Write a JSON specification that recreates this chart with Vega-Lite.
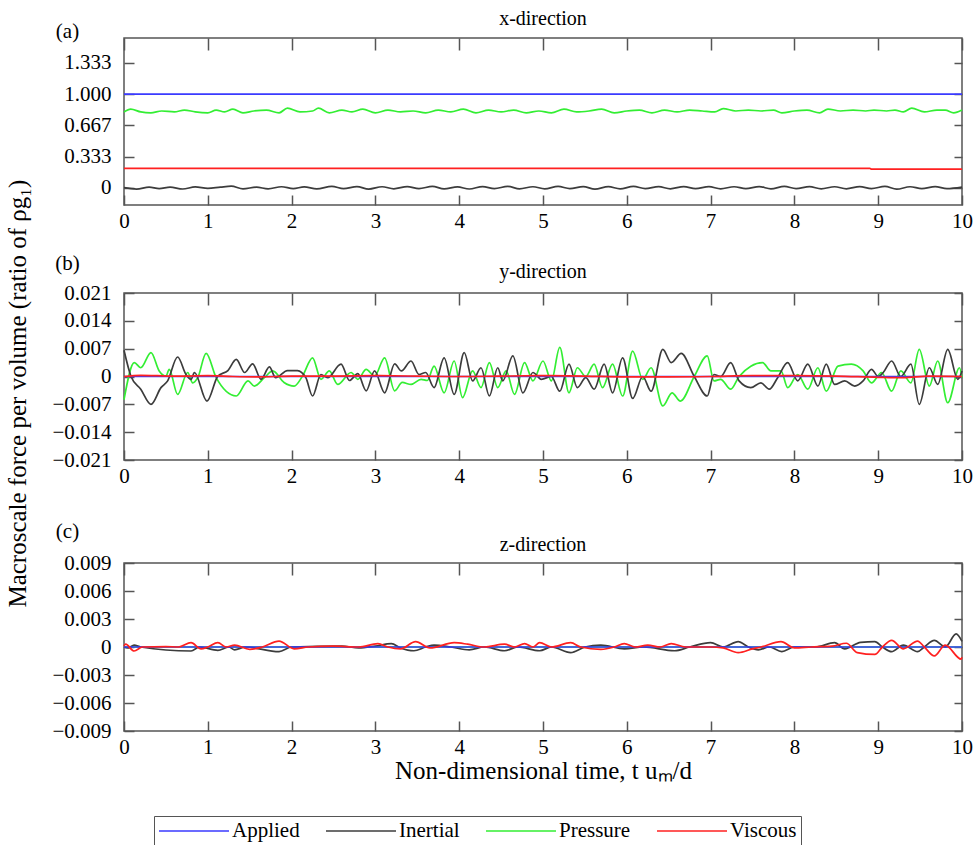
{
  "$schema": "https://vega.github.io/schema/vega-lite/v6.json",
  "padding": {"left": 6, "top": 7, "right": 0, "bottom": 0},
  "title": {"text": "Macroscale force per volume (ratio of ρg₁)", "orient": "left", "anchor": "middle", "dx": 33, "fontSize": 25, "offset": 20, "font": "Liberation Serif", "fontWeight": "normal", "color": "#000"},
  "datasets": {
    "a": [
      {"s": "Pressure", "t": 0, "v": 0.81}, {"s": "Pressure", "t": 0.08, "v": 0.84}, {"s": "Pressure", "t": 0.2, "v": 0.81}, {"s": "Pressure", "t": 0.32, "v": 0.8}, {"s": "Pressure", "t": 0.45, "v": 0.82}, {"s": "Pressure", "t": 0.6, "v": 0.81}, {"s": "Pressure", "t": 0.72, "v": 0.83}, {"s": "Pressure", "t": 0.85, "v": 0.81}, {"s": "Pressure", "t": 1.0, "v": 0.8}, {"s": "Pressure", "t": 1.1, "v": 0.83}, {"s": "Pressure", "t": 1.2, "v": 0.81}, {"s": "Pressure", "t": 1.3, "v": 0.84}, {"s": "Pressure", "t": 1.42, "v": 0.8}, {"s": "Pressure", "t": 1.55, "v": 0.82}, {"s": "Pressure", "t": 1.7, "v": 0.83}, {"s": "Pressure", "t": 1.85, "v": 0.8}, {"s": "Pressure", "t": 1.95, "v": 0.85}, {"s": "Pressure", "t": 2.1, "v": 0.81}, {"s": "Pressure", "t": 2.25, "v": 0.82}, {"s": "Pressure", "t": 2.32, "v": 0.85}, {"s": "Pressure", "t": 2.45, "v": 0.8}, {"s": "Pressure", "t": 2.6, "v": 0.83}, {"s": "Pressure", "t": 2.72, "v": 0.81}, {"s": "Pressure", "t": 2.85, "v": 0.84}, {"s": "Pressure", "t": 3.0, "v": 0.8}, {"s": "Pressure", "t": 3.15, "v": 0.83}, {"s": "Pressure", "t": 3.3, "v": 0.81}, {"s": "Pressure", "t": 3.45, "v": 0.82}, {"s": "Pressure", "t": 3.6, "v": 0.8}, {"s": "Pressure", "t": 3.75, "v": 0.83}, {"s": "Pressure", "t": 3.9, "v": 0.81}, {"s": "Pressure", "t": 4.05, "v": 0.84}, {"s": "Pressure", "t": 4.2, "v": 0.8}, {"s": "Pressure", "t": 4.35, "v": 0.83}, {"s": "Pressure", "t": 4.5, "v": 0.81}, {"s": "Pressure", "t": 4.65, "v": 0.83}, {"s": "Pressure", "t": 4.8, "v": 0.8}, {"s": "Pressure", "t": 4.95, "v": 0.82}, {"s": "Pressure", "t": 5.1, "v": 0.8}, {"s": "Pressure", "t": 5.25, "v": 0.84}, {"s": "Pressure", "t": 5.4, "v": 0.81}, {"s": "Pressure", "t": 5.55, "v": 0.82}, {"s": "Pressure", "t": 5.7, "v": 0.84}, {"s": "Pressure", "t": 5.85, "v": 0.8}, {"s": "Pressure", "t": 6.0, "v": 0.82}, {"s": "Pressure", "t": 6.15, "v": 0.83}, {"s": "Pressure", "t": 6.3, "v": 0.8}, {"s": "Pressure", "t": 6.45, "v": 0.83}, {"s": "Pressure", "t": 6.6, "v": 0.81}, {"s": "Pressure", "t": 6.75, "v": 0.83}, {"s": "Pressure", "t": 6.9, "v": 0.82}, {"s": "Pressure", "t": 7.05, "v": 0.81}, {"s": "Pressure", "t": 7.15, "v": 0.845}, {"s": "Pressure", "t": 7.3, "v": 0.82}, {"s": "Pressure", "t": 7.45, "v": 0.83}, {"s": "Pressure", "t": 7.6, "v": 0.82}, {"s": "Pressure", "t": 7.75, "v": 0.83}, {"s": "Pressure", "t": 7.85, "v": 0.8}, {"s": "Pressure", "t": 8.0, "v": 0.82}, {"s": "Pressure", "t": 8.15, "v": 0.83}, {"s": "Pressure", "t": 8.3, "v": 0.8}, {"s": "Pressure", "t": 8.4, "v": 0.84}, {"s": "Pressure", "t": 8.55, "v": 0.82}, {"s": "Pressure", "t": 8.7, "v": 0.83}, {"s": "Pressure", "t": 8.85, "v": 0.82}, {"s": "Pressure", "t": 8.95, "v": 0.83}, {"s": "Pressure", "t": 9.1, "v": 0.82}, {"s": "Pressure", "t": 9.2, "v": 0.83}, {"s": "Pressure", "t": 9.3, "v": 0.81}, {"s": "Pressure", "t": 9.4, "v": 0.85}, {"s": "Pressure", "t": 9.55, "v": 0.81}, {"s": "Pressure", "t": 9.7, "v": 0.83}, {"s": "Pressure", "t": 9.8, "v": 0.83}, {"s": "Pressure", "t": 9.9, "v": 0.8}, {"s": "Pressure", "t": 10, "v": 0.83},
      {"s": "Inertial", "t": 0, "v": 0.0}, {"s": "Inertial", "t": 0.15, "v": -0.015}, {"s": "Inertial", "t": 0.3, "v": 0.005}, {"s": "Inertial", "t": 0.42, "v": -0.01}, {"s": "Inertial", "t": 0.55, "v": 0.006}, {"s": "Inertial", "t": 0.7, "v": -0.014}, {"s": "Inertial", "t": 0.85, "v": 0.008}, {"s": "Inertial", "t": 1.0, "v": -0.008}, {"s": "Inertial", "t": 1.15, "v": 0.006}, {"s": "Inertial", "t": 1.28, "v": 0.016}, {"s": "Inertial", "t": 1.42, "v": -0.012}, {"s": "Inertial", "t": 1.58, "v": 0.006}, {"s": "Inertial", "t": 1.72, "v": -0.012}, {"s": "Inertial", "t": 1.88, "v": 0.01}, {"s": "Inertial", "t": 2.02, "v": -0.01}, {"s": "Inertial", "t": 2.15, "v": 0.008}, {"s": "Inertial", "t": 2.3, "v": -0.012}, {"s": "Inertial", "t": 2.48, "v": 0.015}, {"s": "Inertial", "t": 2.62, "v": -0.01}, {"s": "Inertial", "t": 2.78, "v": 0.012}, {"s": "Inertial", "t": 2.92, "v": -0.015}, {"s": "Inertial", "t": 3.08, "v": 0.01}, {"s": "Inertial", "t": 3.22, "v": -0.012}, {"s": "Inertial", "t": 3.38, "v": 0.012}, {"s": "Inertial", "t": 3.52, "v": -0.01}, {"s": "Inertial", "t": 3.68, "v": 0.014}, {"s": "Inertial", "t": 3.82, "v": -0.012}, {"s": "Inertial", "t": 3.98, "v": 0.008}, {"s": "Inertial", "t": 4.12, "v": -0.014}, {"s": "Inertial", "t": 4.28, "v": 0.012}, {"s": "Inertial", "t": 4.42, "v": -0.01}, {"s": "Inertial", "t": 4.58, "v": 0.014}, {"s": "Inertial", "t": 4.72, "v": -0.012}, {"s": "Inertial", "t": 4.88, "v": 0.01}, {"s": "Inertial", "t": 5.02, "v": -0.012}, {"s": "Inertial", "t": 5.18, "v": 0.014}, {"s": "Inertial", "t": 5.32, "v": -0.01}, {"s": "Inertial", "t": 5.48, "v": 0.012}, {"s": "Inertial", "t": 5.62, "v": -0.015}, {"s": "Inertial", "t": 5.78, "v": 0.012}, {"s": "Inertial", "t": 5.92, "v": -0.012}, {"s": "Inertial", "t": 6.08, "v": 0.014}, {"s": "Inertial", "t": 6.22, "v": -0.01}, {"s": "Inertial", "t": 6.38, "v": 0.012}, {"s": "Inertial", "t": 6.52, "v": -0.012}, {"s": "Inertial", "t": 6.68, "v": 0.012}, {"s": "Inertial", "t": 6.82, "v": -0.01}, {"s": "Inertial", "t": 6.98, "v": 0.012}, {"s": "Inertial", "t": 7.12, "v": -0.012}, {"s": "Inertial", "t": 7.28, "v": 0.01}, {"s": "Inertial", "t": 7.42, "v": -0.01}, {"s": "Inertial", "t": 7.58, "v": 0.012}, {"s": "Inertial", "t": 7.72, "v": -0.012}, {"s": "Inertial", "t": 7.88, "v": 0.014}, {"s": "Inertial", "t": 8.02, "v": -0.01}, {"s": "Inertial", "t": 8.18, "v": 0.012}, {"s": "Inertial", "t": 8.32, "v": -0.012}, {"s": "Inertial", "t": 8.48, "v": 0.01}, {"s": "Inertial", "t": 8.62, "v": -0.012}, {"s": "Inertial", "t": 8.78, "v": 0.012}, {"s": "Inertial", "t": 8.92, "v": -0.01}, {"s": "Inertial", "t": 9.08, "v": 0.014}, {"s": "Inertial", "t": 9.22, "v": -0.016}, {"s": "Inertial", "t": 9.38, "v": 0.01}, {"s": "Inertial", "t": 9.52, "v": -0.01}, {"s": "Inertial", "t": 9.68, "v": 0.012}, {"s": "Inertial", "t": 9.82, "v": -0.01}, {"s": "Inertial", "t": 10, "v": 0.006},
      {"s": "Applied", "t": 0, "v": 1.0}, {"s": "Applied", "t": 10, "v": 1.0},
      {"s": "Viscous", "t": 0, "v": 0.207}, {"s": "Viscous", "t": 8.9, "v": 0.207}, {"s": "Viscous", "t": 8.92, "v": 0.199}, {"s": "Viscous", "t": 10, "v": 0.199}
    ],
    "b": [
      {"s": "Pressure", "t": 0, "v": -0.0058}, {"s": "Pressure", "t": 0.123, "v": 0.0035}, {"s": "Pressure", "t": 0.2, "v": 0.0022}, {"s": "Pressure", "t": 0.322, "v": 0.006}, {"s": "Pressure", "t": 0.42, "v": 0.0014}, {"s": "Pressure", "t": 0.5, "v": 0.0001}, {"s": "Pressure", "t": 0.54, "v": 0.0018}, {"s": "Pressure", "t": 0.64, "v": -0.0045}, {"s": "Pressure", "t": 0.76, "v": 0.001}, {"s": "Pressure", "t": 0.82, "v": -0.0016}, {"s": "Pressure", "t": 0.88, "v": -0.0003}, {"s": "Pressure", "t": 0.98, "v": 0.0058}, {"s": "Pressure", "t": 1.1, "v": -0.0003}, {"s": "Pressure", "t": 1.34, "v": -0.0049}, {"s": "Pressure", "t": 1.48, "v": -0.0011}, {"s": "Pressure", "t": 1.555, "v": -0.0024}, {"s": "Pressure", "t": 1.675, "v": -0.0003}, {"s": "Pressure", "t": 1.775, "v": 0.0014}, {"s": "Pressure", "t": 1.91, "v": -0.0015}, {"s": "Pressure", "t": 2.03, "v": -0.0024}, {"s": "Pressure", "t": 2.13, "v": 0.0001}, {"s": "Pressure", "t": 2.25, "v": 0.0047}, {"s": "Pressure", "t": 2.35, "v": -0.0007}, {"s": "Pressure", "t": 2.45, "v": 0.0014}, {"s": "Pressure", "t": 2.55, "v": -0.002}, {"s": "Pressure", "t": 2.71, "v": 0.001}, {"s": "Pressure", "t": 2.79, "v": -0.0007}, {"s": "Pressure", "t": 2.89, "v": 0.0018}, {"s": "Pressure", "t": 2.99, "v": 0.0001}, {"s": "Pressure", "t": 3.11, "v": 0.0047}, {"s": "Pressure", "t": 3.23, "v": -0.0036}, {"s": "Pressure", "t": 3.32, "v": -0.0015}, {"s": "Pressure", "t": 3.425, "v": -0.002}, {"s": "Pressure", "t": 3.545, "v": -0.0007}, {"s": "Pressure", "t": 3.62, "v": -0.001}, {"s": "Pressure", "t": 3.7, "v": 0.0026}, {"s": "Pressure", "t": 3.82, "v": -0.0041}, {"s": "Pressure", "t": 3.94, "v": 0.0039}, {"s": "Pressure", "t": 4.04, "v": -0.0053}, {"s": "Pressure", "t": 4.16, "v": 0.0014}, {"s": "Pressure", "t": 4.26, "v": -0.0028}, {"s": "Pressure", "t": 4.36, "v": 0.0035}, {"s": "Pressure", "t": 4.46, "v": -0.0028}, {"s": "Pressure", "t": 4.56, "v": 0.0014}, {"s": "Pressure", "t": 4.66, "v": -0.0045}, {"s": "Pressure", "t": 4.78, "v": 0.0035}, {"s": "Pressure", "t": 4.88, "v": -0.0011}, {"s": "Pressure", "t": 5.0, "v": 0.0039}, {"s": "Pressure", "t": 5.1, "v": -0.0011}, {"s": "Pressure", "t": 5.2, "v": 0.0073}, {"s": "Pressure", "t": 5.31, "v": -0.0041}, {"s": "Pressure", "t": 5.41, "v": 0.0022}, {"s": "Pressure", "t": 5.51, "v": 0.0}, {"s": "Pressure", "t": 5.61, "v": 0.0031}, {"s": "Pressure", "t": 5.71, "v": -0.0028}, {"s": "Pressure", "t": 5.83, "v": 0.0031}, {"s": "Pressure", "t": 5.95, "v": -0.0049}, {"s": "Pressure", "t": 6.07, "v": 0.0064}, {"s": "Pressure", "t": 6.19, "v": -0.0007}, {"s": "Pressure", "t": 6.29, "v": 0.0022}, {"s": "Pressure", "t": 6.43, "v": -0.0074}, {"s": "Pressure", "t": 6.54, "v": -0.0041}, {"s": "Pressure", "t": 6.64, "v": -0.0062}, {"s": "Pressure", "t": 6.805, "v": 0.0}, {"s": "Pressure", "t": 6.96, "v": 0.0052}, {"s": "Pressure", "t": 7.04, "v": -0.0011}, {"s": "Pressure", "t": 7.12, "v": -0.0007}, {"s": "Pressure", "t": 7.24, "v": -0.0032}, {"s": "Pressure", "t": 7.34, "v": 0.0}, {"s": "Pressure", "t": 7.48, "v": 0.0026}, {"s": "Pressure", "t": 7.62, "v": 0.0035}, {"s": "Pressure", "t": 7.72, "v": 0.0014}, {"s": "Pressure", "t": 7.84, "v": 0.0014}, {"s": "Pressure", "t": 7.92, "v": -0.0028}, {"s": "Pressure", "t": 8.04, "v": 0.0005}, {"s": "Pressure", "t": 8.16, "v": -0.0032}, {"s": "Pressure", "t": 8.28, "v": 0.0022}, {"s": "Pressure", "t": 8.38, "v": -0.0037}, {"s": "Pressure", "t": 8.52, "v": 0.0026}, {"s": "Pressure", "t": 8.68, "v": 0.0031}, {"s": "Pressure", "t": 8.82, "v": 0.0014}, {"s": "Pressure", "t": 8.92, "v": -0.0016}, {"s": "Pressure", "t": 9.04, "v": 0.001}, {"s": "Pressure", "t": 9.16, "v": -0.0037}, {"s": "Pressure", "t": 9.27, "v": 0.0014}, {"s": "Pressure", "t": 9.39, "v": -0.0016}, {"s": "Pressure", "t": 9.49, "v": 0.0068}, {"s": "Pressure", "t": 9.61, "v": -0.0024}, {"s": "Pressure", "t": 9.71, "v": 0.0039}, {"s": "Pressure", "t": 9.83, "v": -0.0066}, {"s": "Pressure", "t": 9.97, "v": 0.0022}, {"s": "Pressure", "t": 10, "v": -0.0003},
      {"s": "Inertial", "t": 0, "v": 0.0066}, {"s": "Inertial", "t": 0.084, "v": 0.0}, {"s": "Inertial", "t": 0.2, "v": -0.0032}, {"s": "Inertial", "t": 0.322, "v": -0.007}, {"s": "Inertial", "t": 0.441, "v": -0.0028}, {"s": "Inertial", "t": 0.521, "v": -0.0011}, {"s": "Inertial", "t": 0.64, "v": 0.0049}, {"s": "Inertial", "t": 0.74, "v": 0.0005}, {"s": "Inertial", "t": 0.8, "v": -0.0007}, {"s": "Inertial", "t": 0.84, "v": 0.001}, {"s": "Inertial", "t": 0.99, "v": -0.0062}, {"s": "Inertial", "t": 1.12, "v": 0.0001}, {"s": "Inertial", "t": 1.24, "v": 0.0015}, {"s": "Inertial", "t": 1.34, "v": 0.0043}, {"s": "Inertial", "t": 1.44, "v": 0.001}, {"s": "Inertial", "t": 1.535, "v": 0.0032}, {"s": "Inertial", "t": 1.635, "v": -0.0007}, {"s": "Inertial", "t": 1.735, "v": 0.0024}, {"s": "Inertial", "t": 1.81, "v": -0.0003}, {"s": "Inertial", "t": 1.95, "v": 0.0015}, {"s": "Inertial", "t": 2.07, "v": 0.0015}, {"s": "Inertial", "t": 2.17, "v": -0.0003}, {"s": "Inertial", "t": 2.25, "v": -0.0049}, {"s": "Inertial", "t": 2.35, "v": 0.0005}, {"s": "Inertial", "t": 2.43, "v": -0.0003}, {"s": "Inertial", "t": 2.59, "v": 0.0031}, {"s": "Inertial", "t": 2.69, "v": -0.001}, {"s": "Inertial", "t": 2.79, "v": 0.0007}, {"s": "Inertial", "t": 2.89, "v": -0.0036}, {"s": "Inertial", "t": 2.99, "v": 0.0014}, {"s": "Inertial", "t": 3.11, "v": -0.0041}, {"s": "Inertial", "t": 3.23, "v": 0.0032}, {"s": "Inertial", "t": 3.31, "v": 0.0014}, {"s": "Inertial", "t": 3.425, "v": 0.0039}, {"s": "Inertial", "t": 3.52, "v": 0.0005}, {"s": "Inertial", "t": 3.6, "v": 0.001}, {"s": "Inertial", "t": 3.7, "v": -0.0028}, {"s": "Inertial", "t": 3.82, "v": 0.0047}, {"s": "Inertial", "t": 3.94, "v": -0.0045}, {"s": "Inertial", "t": 4.06, "v": 0.006}, {"s": "Inertial", "t": 4.16, "v": -0.0011}, {"s": "Inertial", "t": 4.26, "v": 0.0022}, {"s": "Inertial", "t": 4.36, "v": -0.0049}, {"s": "Inertial", "t": 4.46, "v": 0.0022}, {"s": "Inertial", "t": 4.52, "v": -0.0011}, {"s": "Inertial", "t": 4.64, "v": 0.0052}, {"s": "Inertial", "t": 4.76, "v": -0.0041}, {"s": "Inertial", "t": 4.88, "v": 0.001}, {"s": "Inertial", "t": 4.98, "v": -0.0007}, {"s": "Inertial", "t": 5.1, "v": 0.0}, {"s": "Inertial", "t": 5.2, "v": -0.0037}, {"s": "Inertial", "t": 5.31, "v": 0.0031}, {"s": "Inertial", "t": 5.41, "v": -0.0028}, {"s": "Inertial", "t": 5.51, "v": -0.0003}, {"s": "Inertial", "t": 5.61, "v": -0.0032}, {"s": "Inertial", "t": 5.73, "v": 0.0031}, {"s": "Inertial", "t": 5.83, "v": -0.0041}, {"s": "Inertial", "t": 5.95, "v": 0.0047}, {"s": "Inertial", "t": 6.07, "v": -0.0055}, {"s": "Inertial", "t": 6.19, "v": 0.0}, {"s": "Inertial", "t": 6.29, "v": -0.0037}, {"s": "Inertial", "t": 6.43, "v": 0.0068}, {"s": "Inertial", "t": 6.53, "v": 0.0035}, {"s": "Inertial", "t": 6.65, "v": 0.0058}, {"s": "Inertial", "t": 6.805, "v": 0.0}, {"s": "Inertial", "t": 6.96, "v": -0.0049}, {"s": "Inertial", "t": 7.04, "v": 0.0005}, {"s": "Inertial", "t": 7.12, "v": 0.0}, {"s": "Inertial", "t": 7.24, "v": 0.0035}, {"s": "Inertial", "t": 7.34, "v": -0.0011}, {"s": "Inertial", "t": 7.48, "v": -0.0028}, {"s": "Inertial", "t": 7.6, "v": -0.0016}, {"s": "Inertial", "t": 7.7, "v": -0.0032}, {"s": "Inertial", "t": 7.8, "v": -0.0003}, {"s": "Inertial", "t": 7.92, "v": 0.0035}, {"s": "Inertial", "t": 8.04, "v": -0.0011}, {"s": "Inertial", "t": 8.16, "v": 0.0031}, {"s": "Inertial", "t": 8.28, "v": -0.0024}, {"s": "Inertial", "t": 8.38, "v": 0.0031}, {"s": "Inertial", "t": 8.48, "v": -0.002}, {"s": "Inertial", "t": 8.6, "v": -0.0011}, {"s": "Inertial", "t": 8.72, "v": -0.0024}, {"s": "Inertial", "t": 8.82, "v": -0.0011}, {"s": "Inertial", "t": 8.92, "v": 0.0018}, {"s": "Inertial", "t": 9.0, "v": 0.0}, {"s": "Inertial", "t": 9.06, "v": 0.001}, {"s": "Inertial", "t": 9.16, "v": 0.0039}, {"s": "Inertial", "t": 9.27, "v": 0.0}, {"s": "Inertial", "t": 9.39, "v": 0.0031}, {"s": "Inertial", "t": 9.49, "v": -0.007}, {"s": "Inertial", "t": 9.61, "v": 0.0022}, {"s": "Inertial", "t": 9.71, "v": -0.002}, {"s": "Inertial", "t": 9.83, "v": 0.0068}, {"s": "Inertial", "t": 9.95, "v": -0.0007}, {"s": "Inertial", "t": 10, "v": 0.0014},
      {"s": "Applied", "t": 0, "v": 0}, {"s": "Applied", "t": 10, "v": 0},
      {"s": "Viscous", "t": 0, "v": 0}, {"s": "Viscous", "t": 0.2, "v": 0.0003}, {"s": "Viscous", "t": 0.4, "v": 0.0002}, {"s": "Viscous", "t": 0.7, "v": 0.0001}, {"s": "Viscous", "t": 1.0, "v": 0.0002}, {"s": "Viscous", "t": 1.3, "v": 0}, {"s": "Viscous", "t": 1.6, "v": -0.0001}, {"s": "Viscous", "t": 2.0, "v": 0.0001}, {"s": "Viscous", "t": 2.5, "v": 0.0001}, {"s": "Viscous", "t": 3.0, "v": 0.0002}, {"s": "Viscous", "t": 3.5, "v": 0.0001}, {"s": "Viscous", "t": 4.0, "v": 0}, {"s": "Viscous", "t": 4.5, "v": 0.0001}, {"s": "Viscous", "t": 5.0, "v": 0.0002}, {"s": "Viscous", "t": 5.5, "v": 0.0001}, {"s": "Viscous", "t": 6.0, "v": -0.0001}, {"s": "Viscous", "t": 6.5, "v": -0.0001}, {"s": "Viscous", "t": 7.0, "v": 0}, {"s": "Viscous", "t": 7.5, "v": 0.0002}, {"s": "Viscous", "t": 8.0, "v": 0.0002}, {"s": "Viscous", "t": 8.5, "v": 0.0001}, {"s": "Viscous", "t": 9.0, "v": -0.0002}, {"s": "Viscous", "t": 9.3, "v": -0.0003}, {"s": "Viscous", "t": 9.6, "v": 0.0001}, {"s": "Viscous", "t": 10, "v": 0}
    ],
    "c": [
      {"s": "Pressure", "t": 0, "v": 0}, {"s": "Pressure", "t": 10, "v": 0},
      {"s": "Inertial", "t": 0, "v": 0}, {"s": "Inertial", "t": 0.05, "v": -0.0001}, {"s": "Inertial", "t": 0.12, "v": 0.0002}, {"s": "Inertial", "t": 0.2, "v": 0}, {"s": "Inertial", "t": 0.8, "v": -0.00043}, {"s": "Inertial", "t": 0.9, "v": 0}, {"s": "Inertial", "t": 1.12, "v": -0.00036}, {"s": "Inertial", "t": 1.25, "v": 0}, {"s": "Inertial", "t": 1.32, "v": -0.0003}, {"s": "Inertial", "t": 1.45, "v": 0}, {"s": "Inertial", "t": 1.85, "v": -0.0005}, {"s": "Inertial", "t": 2.0, "v": 0}, {"s": "Inertial", "t": 2.6, "v": 0.0001}, {"s": "Inertial", "t": 2.8, "v": -0.0001}, {"s": "Inertial", "t": 3.0, "v": 0.0001}, {"s": "Inertial", "t": 3.19, "v": 0.00036}, {"s": "Inertial", "t": 3.3, "v": -0.0001}, {"s": "Inertial", "t": 3.46, "v": -0.0004}, {"s": "Inertial", "t": 3.6, "v": 0}, {"s": "Inertial", "t": 3.7, "v": 0.0002}, {"s": "Inertial", "t": 3.9, "v": 0}, {"s": "Inertial", "t": 4.12, "v": -0.0003}, {"s": "Inertial", "t": 4.3, "v": 0}, {"s": "Inertial", "t": 4.54, "v": -0.0004}, {"s": "Inertial", "t": 4.7, "v": 0}, {"s": "Inertial", "t": 4.96, "v": -0.0004}, {"s": "Inertial", "t": 5.1, "v": 0}, {"s": "Inertial", "t": 5.33, "v": -0.0006}, {"s": "Inertial", "t": 5.5, "v": 0}, {"s": "Inertial", "t": 5.69, "v": 0.0002}, {"s": "Inertial", "t": 5.97, "v": -0.0002}, {"s": "Inertial", "t": 6.2, "v": 0}, {"s": "Inertial", "t": 6.57, "v": -0.0004}, {"s": "Inertial", "t": 6.75, "v": 0}, {"s": "Inertial", "t": 7.0, "v": 0.00046}, {"s": "Inertial", "t": 7.15, "v": 0}, {"s": "Inertial", "t": 7.33, "v": 0.00057}, {"s": "Inertial", "t": 7.45, "v": 0}, {"s": "Inertial", "t": 7.57, "v": -0.0003}, {"s": "Inertial", "t": 7.7, "v": 0}, {"s": "Inertial", "t": 7.85, "v": -0.0005}, {"s": "Inertial", "t": 8.0, "v": 0}, {"s": "Inertial", "t": 8.25, "v": 0}, {"s": "Inertial", "t": 8.48, "v": 0.00046}, {"s": "Inertial", "t": 8.6, "v": -0.0002}, {"s": "Inertial", "t": 8.79, "v": 0.0005}, {"s": "Inertial", "t": 8.96, "v": 0.00057}, {"s": "Inertial", "t": 9.05, "v": 0}, {"s": "Inertial", "t": 9.16, "v": -0.0005}, {"s": "Inertial", "t": 9.3, "v": 0.0002}, {"s": "Inertial", "t": 9.47, "v": -0.0005}, {"s": "Inertial", "t": 9.55, "v": 0}, {"s": "Inertial", "t": 9.67, "v": 0.0007}, {"s": "Inertial", "t": 9.8, "v": 0}, {"s": "Inertial", "t": 9.93, "v": 0.0014}, {"s": "Inertial", "t": 10, "v": 0.0006},
      {"s": "Applied", "t": 0, "v": 0}, {"s": "Applied", "t": 10, "v": 0},
      {"s": "Viscous", "t": 0, "v": 0.0001}, {"s": "Viscous", "t": 0.02, "v": 0.0003}, {"s": "Viscous", "t": 0.12, "v": -0.00043}, {"s": "Viscous", "t": 0.22, "v": 0}, {"s": "Viscous", "t": 0.5, "v": 0.00005}, {"s": "Viscous", "t": 0.65, "v": 0}, {"s": "Viscous", "t": 0.8, "v": 0.00046}, {"s": "Viscous", "t": 0.92, "v": -0.0002}, {"s": "Viscous", "t": 1.0, "v": 0}, {"s": "Viscous", "t": 1.12, "v": 0.00046}, {"s": "Viscous", "t": 1.22, "v": 0}, {"s": "Viscous", "t": 1.32, "v": 0.0002}, {"s": "Viscous", "t": 1.5, "v": -0.00025}, {"s": "Viscous", "t": 1.65, "v": 0}, {"s": "Viscous", "t": 1.85, "v": 0.00064}, {"s": "Viscous", "t": 2.03, "v": -0.0002}, {"s": "Viscous", "t": 2.2, "v": 0}, {"s": "Viscous", "t": 2.5, "v": 0.0001}, {"s": "Viscous", "t": 2.8, "v": 0}, {"s": "Viscous", "t": 3.03, "v": 0.00036}, {"s": "Viscous", "t": 3.15, "v": 0}, {"s": "Viscous", "t": 3.3, "v": -0.0002}, {"s": "Viscous", "t": 3.48, "v": 0.00057}, {"s": "Viscous", "t": 3.65, "v": -0.0001}, {"s": "Viscous", "t": 3.94, "v": 0.00046}, {"s": "Viscous", "t": 4.1, "v": 0.0003}, {"s": "Viscous", "t": 4.3, "v": 0}, {"s": "Viscous", "t": 4.54, "v": 0.0003}, {"s": "Viscous", "t": 4.66, "v": 0}, {"s": "Viscous", "t": 4.78, "v": 0.00036}, {"s": "Viscous", "t": 4.88, "v": 0}, {"s": "Viscous", "t": 4.96, "v": 0.00046}, {"s": "Viscous", "t": 5.1, "v": 0}, {"s": "Viscous", "t": 5.33, "v": 0.00046}, {"s": "Viscous", "t": 5.45, "v": 0}, {"s": "Viscous", "t": 5.69, "v": -0.00025}, {"s": "Viscous", "t": 5.85, "v": 0}, {"s": "Viscous", "t": 5.97, "v": 0.00036}, {"s": "Viscous", "t": 6.1, "v": 0}, {"s": "Viscous", "t": 6.25, "v": 0.0002}, {"s": "Viscous", "t": 6.4, "v": 0}, {"s": "Viscous", "t": 6.53, "v": 0.00036}, {"s": "Viscous", "t": 6.7, "v": 0}, {"s": "Viscous", "t": 7.0, "v": 0}, {"s": "Viscous", "t": 7.15, "v": -0.0001}, {"s": "Viscous", "t": 7.33, "v": -0.0006}, {"s": "Viscous", "t": 7.5, "v": -0.0002}, {"s": "Viscous", "t": 7.6, "v": 0}, {"s": "Viscous", "t": 7.84, "v": 0.00057}, {"s": "Viscous", "t": 8.0, "v": -0.0001}, {"s": "Viscous", "t": 8.2, "v": 0}, {"s": "Viscous", "t": 8.45, "v": 0.0001}, {"s": "Viscous", "t": 8.62, "v": 0.0004}, {"s": "Viscous", "t": 8.75, "v": -0.0006}, {"s": "Viscous", "t": 8.96, "v": -0.0008}, {"s": "Viscous", "t": 9.05, "v": 0}, {"s": "Viscous", "t": 9.16, "v": 0.0007}, {"s": "Viscous", "t": 9.3, "v": -0.0002}, {"s": "Viscous", "t": 9.47, "v": 0.00064}, {"s": "Viscous", "t": 9.55, "v": 0}, {"s": "Viscous", "t": 9.67, "v": -0.00096}, {"s": "Viscous", "t": 9.8, "v": 0.0002}, {"s": "Viscous", "t": 9.99, "v": -0.0013}, {"s": "Viscous", "t": 10, "v": -0.0011}
    ]
  },
  "spacing": 88,
  "bounds": "flush",
  "vconcat": [
    {
      "width": 838, "height": 167,
      "data": {"name": "a"},
      "title": {"text": "x-direction", "anchor": "middle", "offset": -8.5},
      "layer": [
        {
          "mark": {"type": "line", "interpolate": "monotone", "strokeWidth": 1.7},
          "encoding": {
            "x": {"field": "t", "type": "quantitative", "scale": {"domain": [0, 10], "nice": false, "zero": false}, "axis": {"orient": "bottom", "values": [0,1,2,3,4,5,6,7,8,9,10], "tickSize": -10, "labelPadding": 15, "title": null}},
            "y": {"field": "v", "type": "quantitative", "scale": {"domain": [-0.185, 1.6], "nice": false, "zero": false}, "axis": {"orient": "left", "values": [0, 0.333, 0.667, 1, 1.333], "labelExpr": "datum.value == 0 ? '0' : format(datum.value, '.3f')", "tickSize": -10, "labelPadding": 23, "title": "(a)", "titleAngle": 0, "titleX": -57, "titleY": -7, "titleAlign": "center", "titleBaseline": "middle", "titleFontSize": 21}},
            "color": {"field": "s", "type": "nominal", "scale": {"domain": ["Applied", "Inertial", "Pressure", "Viscous"], "range": ["#3a3aff", "#3c3c3c", "#33ee33", "#ff2020"]}, "legend": {"orient": "none", "legendX": 30, "legendY": 778, "direction": "horizontal", "title": null, "symbolType": "M-1,0H6", "symbolSize": 400, "symbolStrokeWidth": 1.6, "labelOffset": 52, "columnPadding": 22, "padding": 4}}
          }
        },
        {
          "mark": {"type": "point", "opacity": 0},
          "encoding": {
            "x": {"field": "t", "type": "quantitative", "axis": {"orient": "top", "values": [0,1,2,3,4,5,6,7,8,9,10], "tickSize": -12, "labels": false, "title": null}},
            "y": {"field": "v", "type": "quantitative", "axis": {"orient": "right", "values": [0, 0.333, 0.667, 1, 1.333], "tickSize": -8, "labels": false, "title": null}}
          }
        }
      ],
      "resolve": {"axis": {"x": "independent", "y": "independent"}}
    },
    {
      "spacing": 103,
      "bounds": "flush",
      "vconcat": [
        {
          "width": 838, "height": 167,
          "data": {"name": "b"},
          "title": {"text": "y-direction", "anchor": "middle", "offset": -29.5},
          "layer": [
            {
              "mark": {"type": "line", "interpolate": "monotone", "strokeWidth": 1.7},
              "encoding": {
                "x": {"field": "t", "type": "quantitative", "scale": {"domain": [0, 10], "nice": false, "zero": false}, "axis": {"orient": "bottom", "values": [0,1,2,3,4,5,6,7,8,9,10], "tickSize": -10, "labelPadding": 15, "title": null}},
                "y": {"field": "v", "type": "quantitative", "scale": {"domain": [-0.021, 0.021], "nice": false, "zero": false}, "axis": {"orient": "left", "values": [-0.021, -0.014, -0.007, 0, 0.007, 0.014, 0.021], "labelExpr": "datum.value == 0 ? '0' : format(datum.value, '.3f')", "tickSize": -10, "labelPadding": 23, "title": "(b)", "titleAngle": 0, "titleX": -57, "titleY": -30, "titleAlign": "center", "titleBaseline": "middle", "titleFontSize": 21}},
                "color": {"field": "s", "type": "nominal"}
              }
            },
            {
              "mark": {"type": "point", "opacity": 0},
              "encoding": {
                "x": {"field": "t", "type": "quantitative", "axis": {"orient": "top", "values": [0,1,2,3,4,5,6,7,8,9,10], "tickSize": -12, "labels": false, "title": null}},
                "y": {"field": "v", "type": "quantitative", "axis": {"orient": "right", "values": [-0.021, -0.014, -0.007, 0, 0.007, 0.014, 0.021], "tickSize": -8, "labels": false, "title": null}}
              }
            }
          ],
          "resolve": {"axis": {"x": "independent", "y": "independent"}}
        },
        {
          "width": 838, "height": 168,
          "data": {"name": "c"},
          "title": {"text": "z-direction", "anchor": "middle", "offset": -34.5},
          "layer": [
            {
              "mark": {"type": "line", "interpolate": "monotone", "strokeWidth": 1.7},
              "encoding": {
                "x": {"field": "t", "type": "quantitative", "scale": {"domain": [0, 10], "nice": false, "zero": false}, "axis": {"orient": "bottom", "values": [0,1,2,3,4,5,6,7,8,9,10], "tickSize": -10, "labelPadding": 15, "title": "Non-dimensional time, t uₘ/d", "titleFontSize": 25, "titlePadding": 1}},
                "y": {"field": "v", "type": "quantitative", "scale": {"domain": [-0.009, 0.009], "nice": false, "zero": false}, "axis": {"orient": "left", "values": [-0.009, -0.006, -0.003, 0, 0.003, 0.006, 0.009], "labelExpr": "datum.value == 0 ? '0' : format(datum.value, '.3f')", "tickSize": -10, "labelPadding": 23, "title": "(c)", "titleAngle": 0, "titleX": -57, "titleY": -32, "titleAlign": "center", "titleBaseline": "middle", "titleFontSize": 21}},
                "color": {"field": "s", "type": "nominal"}
              }
            },
            {
              "mark": {"type": "point", "opacity": 0},
              "encoding": {
                "x": {"field": "t", "type": "quantitative", "axis": {"orient": "top", "values": [0,1,2,3,4,5,6,7,8,9,10], "tickSize": -12, "labels": false, "title": null}},
                "y": {"field": "v", "type": "quantitative", "axis": {"orient": "right", "values": [-0.009, -0.006, -0.003, 0, 0.003, 0.006, 0.009], "tickSize": -8, "labels": false, "title": null}}
              }
            }
          ],
          "resolve": {"axis": {"x": "independent", "y": "independent"}}
        }
      ]
    }
  ],
  "config": {
    "font": "Liberation Serif",
    "view": {"stroke": "#555555", "strokeWidth": 1.5},
    "axis": {"domain": false, "grid": false, "minExtent": 0, "labelFont": "Liberation Serif", "labelFontSize": 21, "labelColor": "#000000", "tickColor": "#555555", "tickWidth": 1.5, "labelFlush": false, "labelOverlap": false, "titleFont": "Liberation Serif", "titleFontWeight": "normal", "titleColor": "#000000"},
    "title": {"font": "Liberation Serif", "fontSize": 20, "fontWeight": "normal", "color": "#000000"},
    "legend": {"labelFont": "Liberation Serif", "labelFontSize": 21, "labelColor": "#000000", "strokeColor": "#555555", "fillColor": "#ffffff"}
  }
}
